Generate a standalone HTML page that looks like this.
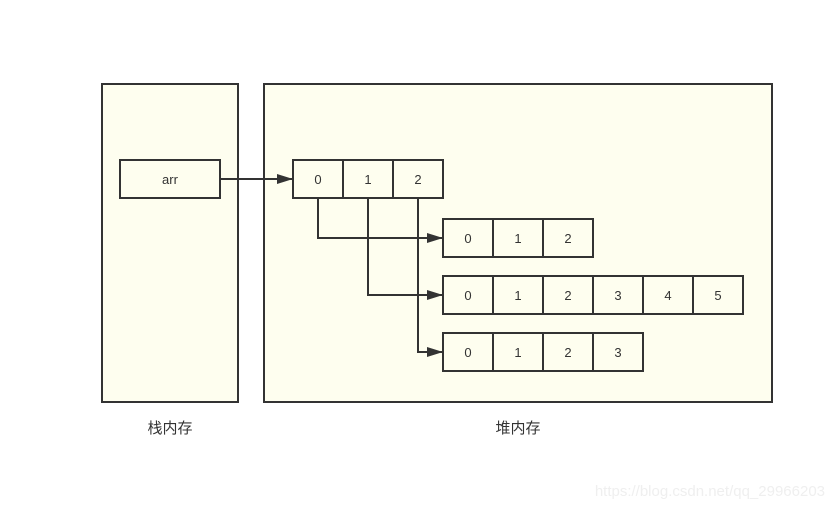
<!DOCTYPE html>
<html><head><meta charset="utf-8"><style>
html,body{margin:0;padding:0;background:#fff;}
svg{display:block;}
text{font-family:"Liberation Sans","Noto Sans CJK SC",sans-serif;}
</style></head><body>
<svg id="d" width="834" height="509" viewBox="0 0 834 509" xmlns="http://www.w3.org/2000/svg">
<defs><marker id="ah" markerWidth="16" markerHeight="10" refX="16" refY="5" orient="auto" markerUnits="userSpaceOnUse"><path d="M0,0 L16,5 L0,10 Z" fill="#333"/></marker></defs>
<rect x="102" y="84" width="136" height="318" fill="#fefeef" stroke="#333" stroke-width="2"/>
<rect x="264" y="84" width="508" height="318" fill="#fefeef" stroke="#333" stroke-width="2"/>
<g>
<rect x="120" y="160" width="100" height="38" fill="#fefeef" stroke="#333" stroke-width="2"/>
<text x="170" y="184" font-size="13" fill="#333" text-anchor="middle">arr</text>
</g>
<g id="arrows" fill="none" stroke="#333" stroke-width="2"></g>
<g id="cells"></g>
<text x="170" y="433" font-size="15" fill="#333" text-anchor="middle">栈内存</text>
<text x="518" y="433" font-size="15" fill="#333" text-anchor="middle">堆内存</text>
<text x="825" y="496" font-size="15" fill="#efefef" text-anchor="end">https://blog.csdn.net/qq_29966203</text>
</svg>
<script>
const arrays=[{x:293,y:160,n:3},{x:443,y:219,n:3},{x:443,y:276,n:6},{x:443,y:333,n:4}];
const NS="http://www.w3.org/2000/svg";
const cells=document.getElementById('cells');
arrays.forEach((a,ai)=>{
 for(let i=0;i<a.n;i++){
  const g=document.createElementNS(NS,'g');
  
  
  const r=document.createElementNS(NS,'rect');
  r.setAttribute('x',a.x+i*50);r.setAttribute('y',a.y);r.setAttribute('width',50);r.setAttribute('height',38);
  r.setAttribute('fill','#fefeef');r.setAttribute('stroke','#333');r.setAttribute('stroke-width','2');
  const t=document.createElementNS(NS,'text');
  t.setAttribute('x',a.x+i*50+25);t.setAttribute('y',a.y+24);t.setAttribute('font-size','13');
  t.setAttribute('fill','#333');t.setAttribute('text-anchor','middle');t.textContent=i;
  g.appendChild(r);g.appendChild(t);cells.appendChild(g);
 }
});
const arrows=document.getElementById('arrows');
const paths=["M220,179 L293,179"];
for(let i=0;i<3;i++){const x=318+i*50,y=arrays[i+1].y+19;paths.push(`M${x},198 L${x},${y} L443,${y}`);}
paths.forEach(d=>{
 const p=document.createElementNS(NS,'path');
 p.setAttribute('d',d);p.setAttribute('marker-end','url(#ah)');
 
 
 arrows.appendChild(p);
});
</script>
</body></html>
